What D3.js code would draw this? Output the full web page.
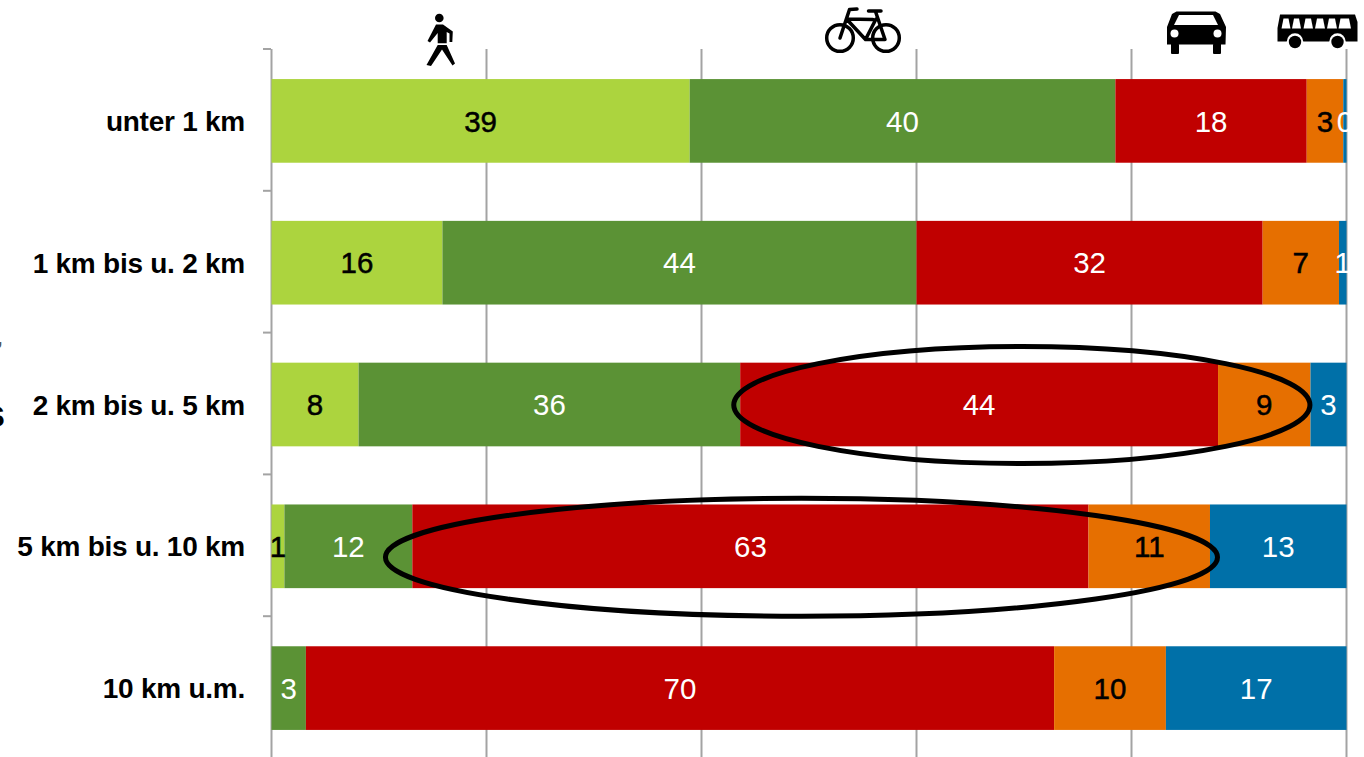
<!DOCTYPE html>
<html><head><meta charset="utf-8">
<script src="https://cdn.jsdelivr.net/npm/d3@7/dist/d3.min.js"></script>
<style>html,body{margin:0;padding:0;background:#fff;overflow:hidden}svg{display:block}text{font-family:"Liberation Sans",Arial,sans-serif}</style>
</head><body><svg id="c" width="1364" height="757"></svg>
<script>
const categories = ["unter 1 km","1 km bis u. 2 km","2 km bis u. 5 km","5 km bis u. 10 km","10 km u.m."];
const modes = ["walk","bike","car","passenger","transit"];
const walk      = [38.9,15.9, 8.1, 1.2, 0];
const bike      = [39.6,44.1,35.5,11.9, 3.2];
const car       = [17.8,32.2,44.45,62.9,69.6];
const passenger = [ 3.4, 7.1, 8.6,11.3,10.4];
const transit   = [ 0.3, 0.7, 3.35,12.7,16.8];
const colors = ["#ACD43E","#5B9235","#C00000","#E66F00","#0070A8"];
const labelColors = ["#000","#fff","#fff","#000","#fff"];
const xTicks = [0,20,40,60,80,100];
const series = [walk,bike,car,passenger,transit];

const svg = d3.select("#c");
const x = d3.scaleLinear().domain([0,100]).range([271.5,1346.5]);
const y = d3.scaleBand().domain(categories).range([50,759]).paddingInner(0.41).paddingOuter(0.205);
const GREY = "#a3a3a3";

svg.append("g").selectAll("line").data(xTicks).join("line")
  .attr("x1",d=>x(d)).attr("x2",d=>x(d)).attr("y1",49).attr("y2",757)
  .attr("stroke",GREY).attr("stroke-width",2);
const boundaries = d3.range(categories.length).map(i=>y(categories[i]) - y.step()*y.paddingInner()/2 - 1);
svg.append("g").selectAll("line").data(boundaries).join("line")
  .attr("x1",263).attr("x2",271).attr("y1",d=>d).attr("y2",d=>d)
  .attr("stroke",GREY).attr("stroke-width",2);

const ax = svg.append("g").attr("transform","translate(245,0)").call(d3.axisLeft(y).tickSize(0).tickPadding(0));
ax.select(".domain").remove();
ax.selectAll("text").attr("font-size",28).attr("font-weight","bold").attr("fill","#000")
  .attr("font-family","Liberation Sans").attr("dy",".36em").style("letter-spacing","-0.25px");

const rows = categories.map((c,i)=>{const o={c};modes.forEach((m,j)=>o[m]=series[j][i]);return o;});
const stacked = d3.stack().keys(modes)(rows);
const g = svg.append("g").selectAll("g").data(stacked).join("g").attr("fill",(d,i)=>colors[i]);
g.selectAll("rect").data(d=>d).join("rect")
  .attr("x",d=>x(d[0])).attr("width",d=>x(d[1])-x(d[0]))
  .attr("y",d=>y(d.data.c)).attr("height",y.bandwidth());
const fmt = d3.format(".0f");
stacked.forEach((s,i)=>{
  svg.append("g").selectAll("text").data(s.filter(d=>d[1]>d[0])).join("text")
    .attr("x",d=>(x(d[0])+x(d[1]))/2).attr("y",d=>y(d.data.c)+y.bandwidth()/2).attr("dy",".36em")
    .attr("text-anchor","middle").attr("font-size",29.5).attr("fill",labelColors[i])
    .attr("stroke",labelColors[i]==="#000"?"#000":"none").attr("stroke-width",labelColors[i]==="#000"?0.5:0)
    .text(d=>fmt(d[1]-d[0]));
});

const ellipses = [{row:2,from:43.0,to:96.6,dy:0.5,ry:58.5},{row:3,from:10.6,to:88.0,dy:11,ry:59}];
svg.append("g").selectAll("ellipse").data(ellipses).join("ellipse")
  .attr("cx",d=>(x(d.from)+x(d.to))/2).attr("rx",d=>(x(d.to)-x(d.from))/2)
  .attr("cy",d=>y(categories[d.row])+y.bandwidth()/2+d.dy).attr("ry",d=>d.ry)
  .attr("fill","none").attr("stroke","#000").attr("stroke-width",5);

const ic = svg.append("g").attr("fill","#000");
ic.append("circle").attr("cx",439.3).attr("cy",18).attr("r",4.3);
ic.append("path").attr("d","M436 24.5L443 24.5L452.8 31.5L452.3 42L449.5 42L449.5 33.5L446.7 32L446.7 43.2L437.7 43.2L437.7 33L430 42.5L427.5 41Z");
ic.append("path").attr("d","M437.7 45L446.7 45L455 63.5L452.5 65.5L442 49.5L431 66L426.5 65Z");
const bk = svg.append("g").attr("fill","none").attr("stroke","#000").attr("stroke-width",3.5).attr("stroke-linecap","round").attr("stroke-linejoin","round");
bk.append("circle").attr("cx",840).attr("cy",38).attr("r",13.3);
bk.append("circle").attr("cx",886).attr("cy",38).attr("r",13.3);
bk.append("path").attr("d","M857 9L849.5 9.5L840 38M846.5 19L865.5 39.5L874 39.5L885 39.5L875.5 11.5M846.5 19L873 19.5M876 19L865.5 39.5M868.5 11L881 11");
ic.append("path").attr("d","M1176.5 11.5L1215.5 11.5L1220 14L1226 27L1225.5 44.5L1213.5 44.5L1213.5 53L1221 53L1221 44.5L1178.5 44.5L1178.5 53L1171 53L1171 44.5L1167 44.5L1167 27L1172 14Z");
ic.append("rect").attr("x",1171).attr("y",44).attr("width",8).attr("height",10).attr("rx",1);
ic.append("rect").attr("x",1213).attr("y",44).attr("width",8).attr("height",10).attr("rx",1);
ic.append("path").attr("fill","#fff").attr("d","M1179 15L1213 15L1218 25L1174 25Z");
ic.append("circle").attr("fill","#fff").attr("cx",1174.5).attr("cy",33.5).attr("r",4);
ic.append("circle").attr("fill","#fff").attr("cx",1217.5).attr("cy",33.5).attr("r",4);
ic.append("path").attr("d","M1280 14.5L1355 14.5L1357.5 22L1357.5 41.5L1277.5 41.5L1277.5 28Z");
[[1283.5,1290.5],[1294,1301],[1305.5,1313],[1317,1325],[1329,1337],[1340.5,1351]].forEach(w=>{
  ic.append("path").attr("fill","#fff").attr("d",`M${w[0]} 18.5L${w[1]-2} 18.5L${w[1]} 28.5L${w[0]-2} 28.5Z`);
});
[1295,1337.5].forEach(cx=>{
  ic.append("circle").attr("fill","#fff").attr("cx",cx).attr("cy",41.5).attr("r",8.2);
  ic.append("circle").attr("cx",cx).attr("cy",42).attr("r",6.2);
});

svg.append("text").attr("x",-16).attr("y",427).attr("font-size",38).attr("font-weight","bold").text("s");
svg.append("text").attr("x",-3).attr("y",356).attr("font-size",20).attr("font-weight","bold").attr("fill","#555").text("’");
</script></body></html>
